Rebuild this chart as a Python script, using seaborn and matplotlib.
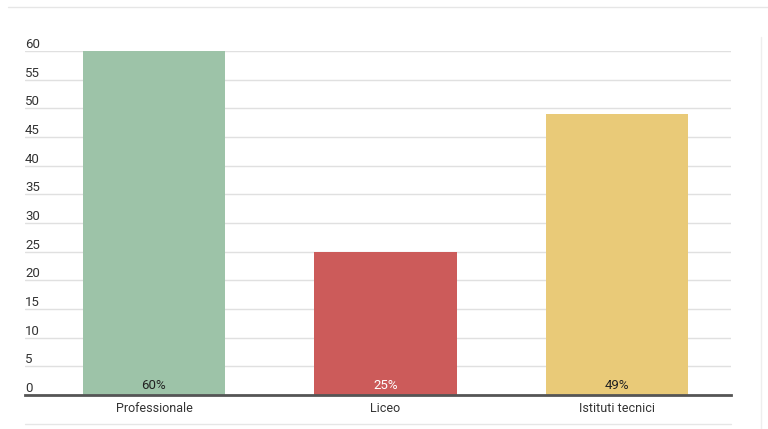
import matplotlib
matplotlib.use("Agg")
import matplotlib.pyplot as plt
from matplotlib.lines import Line2D
import seaborn as sns
import pandas as pd

# Data
categories = ["Professionale", "Liceo", "Istituti tecnici"]
values = [60, 25, 49]
labels = ["60%", "25%", "49%"]
colors = ["#9dc3a8", "#cc5b5a", "#e9ca78"]
label_colors = ["#222222", "#ffffff", "#222222"]
y_ticks = list(range(0, 61, 5))

df = pd.DataFrame({"category": categories, "value": values})

sns.set_style("white")
plt.rcParams["font.family"] = ["Roboto", "DejaVu Sans"]

fig = plt.figure(figsize=(7.68, 4.29), dpi=100)
ax = fig.add_axes([25 / 768, 1 - 395 / 429, 706 / 768, 344 / 429])

sns.barplot(data=df, x="category", y="value", hue="category",
            palette=colors, legend=False, width=0.615, ax=ax, saturation=1,
            linewidth=0)

ax.set_ylim(0, 60)
ax.set_xlim(-0.557, 2.492)
ax.set_yticks(y_ticks)
ax.set_xlabel("")
ax.set_ylabel("")
ax.grid(axis="y", color="#e0e0e0", linewidth=1)
ax.set_axisbelow(True)

for side in ["top", "right", "left"]:
    ax.spines[side].set_visible(False)
ax.spines["bottom"].set_color("#555555")
ax.spines["bottom"].set_linewidth(2)

ax.tick_params(axis="y", length=0, pad=0, labelsize=9.5, labelcolor="#333333")
for t in ax.get_yticklabels():
    t.set_horizontalalignment("left")
    t.set_verticalalignment("bottom")
ax.tick_params(axis="x", length=0, pad=5, labelsize=9, labelcolor="#333333")

for i, (lab, col) in enumerate(zip(labels, label_colors)):
    ax.annotate(lab, xy=(i, 0), xytext=(0, 2), textcoords="offset points",
                ha="center", va="bottom", fontsize=9.5, color=col)

# Decorative frame lines
fig.add_artist(Line2D([8 / 768, 1], [1 - 7 / 429] * 2, color="#e6e6e6", lw=1))
fig.add_artist(Line2D([25 / 768, 731 / 768], [1 - 424 / 429] * 2, color="#e6e6e6", lw=1))
fig.add_artist(Line2D([761 / 768] * 2, [0, 1 - 37 / 429], color="#eeeeee", lw=1))

fig.savefig("out.png", dpi=100)
